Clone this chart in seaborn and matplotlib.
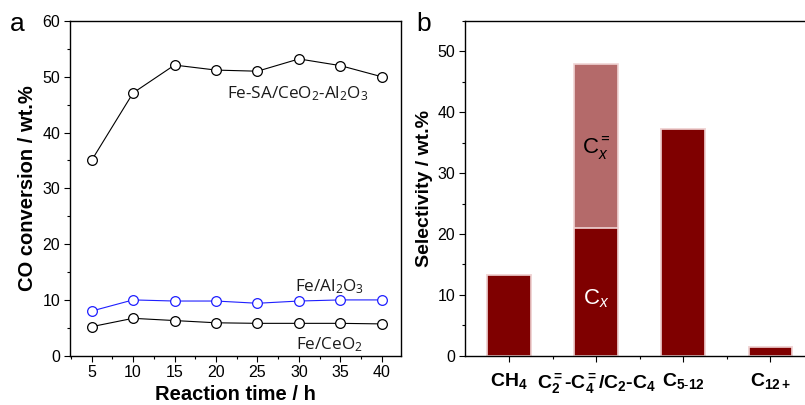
import matplotlib
matplotlib.use("Agg")
import matplotlib.pyplot as plt
import seaborn as sns
import numpy as np
import pandas as pd
from matplotlib.ticker import MultipleLocator, FixedLocator

# ---- data ----
time_h = [5, 10, 15, 20, 25, 30, 35, 40]
fe_sa = [35.0, 47.1, 52.1, 51.2, 51.0, 53.2, 52.0, 50.0]
fe_al2o3 = [8.0, 10.0, 9.8, 9.8, 9.4, 9.8, 10.0, 10.0]
fe_ceo2 = [5.2, 6.7, 6.3, 5.9, 5.8, 5.8, 5.8, 5.7]

categories = ["CH4", "C2-C4", "C5-12", "C12+"]
cat_labels = [r"CH$_\mathbf{4}$",
              r"C$_\mathbf{2}^\mathbf{=}$-C$_\mathbf{4}^\mathbf{=}$/C$_\mathbf{2}$-C$_\mathbf{4}$",
              r"C$_{\mathbf{5}\text{-}\mathbf{12}}$",
              r"C$_\mathbf{12+}$"]
saturated = [13.2, 21.0, 37.3, 1.4]
olefin = [0.0, 27.0, 0.0, 0.0]

sns.set_theme(style="ticks")
plt.rcParams["font.family"] = ["Liberation Sans", "DejaVu Sans"]
plt.rcParams["mathtext.fontset"] = "custom"
plt.rcParams["mathtext.rm"] = "Open Sans"
plt.rcParams["mathtext.bf"] = "Liberation Sans:bold"
plt.rcParams["mathtext.it"] = "Liberation Sans:italic"
plt.rcParams["axes.linewidth"] = 1.0
for k in ["text.color", "axes.labelcolor", "xtick.color", "ytick.color",
          "axes.edgecolor", "xtick.labelcolor", "ytick.labelcolor"]:
    plt.rcParams[k] = "black"

fig = plt.figure(figsize=(8.05, 4.05), dpi=100)
ax1 = fig.add_axes([70/805, 49.3/405, (401-70)/805, (355.7-21)/405])
ax2 = fig.add_axes([465/805, 49.3/405, (806-465)/805, (355.7-21)/405])

# ---- panel a ----
df = pd.DataFrame({"t": time_h * 3,
                   "v": fe_sa + fe_al2o3 + fe_ceo2,
                   "s": ["sa"] * 8 + ["al"] * 8 + ["ce"] * 8})
sns.lineplot(data=df, x="t", y="v", hue="s",
             palette={"sa": "black", "al": "#1f1fff", "ce": "black"},
             marker="o", markersize=7, markerfacecolor="white",
             markeredgewidth=0.9, linewidth=0.8, legend=False, ax=ax1)
for ln, c in zip(ax1.lines, ["black", "#1f1fff", "black"]):
    ln.set_markeredgecolor(c)
ax1.set_xlim(2.4, 42.3)
ax1.set_ylim(0, 60)
ax1.xaxis.set_major_locator(MultipleLocator(5))
ax1.xaxis.set_minor_locator(MultipleLocator(2.5))
ax1.yaxis.set_major_locator(MultipleLocator(10))
ax1.yaxis.set_minor_locator(MultipleLocator(5))
ax1.set_xlabel("Reaction time / h", fontsize=14.5, fontweight="bold", labelpad=3)
ax1.set_ylabel("CO conversion / wt.%", fontsize=14.5, fontweight="bold", labelpad=4)
ax1.tick_params(axis="both", which="major", direction="out", length=4, width=0.8,
                labelsize=11.5, pad=3)
ax1.tick_params(axis="both", which="minor", direction="out", length=2.5, width=0.8)
for sp in ax1.spines.values():
    sp.set_visible(True)
    sp.set_color("black")
ann_font = dict(family=["Open Sans", "DejaVu Sans"], fontsize=12.3, color="#1a1a1a",
                ha="center", va="center")
ax1.text(29.8, 47.0, r"Fe-SA/CeO$_2$-Al$_2$O$_3$", **ann_font)
ax1.text(33.7, 12.4, r"Fe/Al$_2$O$_3$", **ann_font)
ax1.text(33.7, 2.0, r"Fe/CeO$_2$", **ann_font)
fig.text(10/805, 1 - 24/405, "a", fontsize=19, ha="left", va="center")

# ---- panel b ----
totals = [s + o for s, o in zip(saturated, olefin)]
dark = "#7f0000"
light = "#b46a6a"
edge = "#f0d4d4"
sns.barplot(x=categories, y=totals, hue=categories,
            palette=[dark, light, dark, dark], width=0.5, saturation=1,
            edgecolor=edge, linewidth=1.2, legend=False, ax=ax2)
sns.barplot(x=categories, y=saturated, color=dark, width=0.5,
            edgecolor=edge, linewidth=1.2, saturation=1, ax=ax2)
ax2.set_xlim(-0.506, 3.41)
ax2.set_ylim(0, 55)
ax2.yaxis.set_major_locator(MultipleLocator(10))
ax2.yaxis.set_minor_locator(MultipleLocator(5))
ax2.set_xticks(range(4))
ax2.set_xticklabels(cat_labels, fontsize=14, fontweight="bold")
ax2.xaxis.set_minor_locator(FixedLocator([0.5, 1.5, 2.5]))
ax2.set_xlabel("")
ax2.set_ylabel("Selectivity / wt.%", fontsize=14, fontweight="bold", labelpad=3)
ax2.tick_params(axis="both", which="major", direction="out", length=4, width=0.8,
                labelsize=11.5, pad=3)
ax2.tick_params(axis="x", which="major", labelsize=14, pad=7)
ax2.tick_params(axis="both", which="minor", direction="out", length=2.5, width=0.8)
for sp in ["left", "bottom", "top"]:
    ax2.spines[sp].set_visible(True)
    ax2.spines[sp].set_color("black")
ax2.spines["right"].set_visible(False)
ax2.text(1.0, 34.0, r"C$_\mathit{x}^{=}$", fontsize=16, color="black",
         ha="center", va="center")
ax2.text(1.0, 9.3, r"C$_\mathit{x}$", fontsize=16, color="white",
         ha="center", va="center")
fig.text(416/805, 1 - 24/405, "b", fontsize=19, ha="left", va="center")

fig.savefig("out.png", dpi=100)
